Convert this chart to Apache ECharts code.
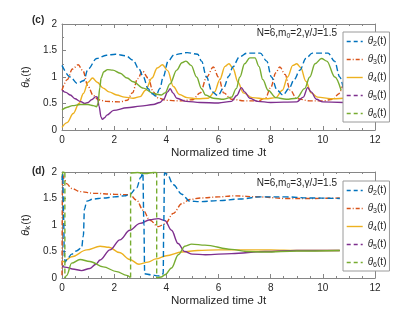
<!DOCTYPE html>
<html><head><meta charset="utf-8">
<script src="https://cdn.jsdelivr.net/npm/echarts@6/dist/echarts.min.js"></script>
<style>html,body{margin:0;padding:0;background:#fff}#c{width:415px;height:313px}</style>
</head><body><div id="c"></div>
<script>
// ---------- data (t, theta) ----------
const X_TICKS = [0, 2, 4, 6, 8, 10, 12];
const Y_TICKS = [0, 0.5, 1, 1.5, 2];
const SERIES_KEYS = ['2', '3', '4', '5', '6'];

// Panel (c): N=6, m0=2
const C_THETA2 = [[0,1.22],[0.32,1.0],[0.58,0.88],[0.83,0.93],[1.0,1.15],[1.33,1.35],[1.7,1.41],[2.05,1.43],[2.45,1.4],[2.72,1.32],[2.95,1.15],[3.12,1.0],[3.3,0.78],[3.44,0.69],[3.6,0.64],[3.75,0.78],[3.88,1.0],[4.07,1.3],[4.3,1.42],[4.8,1.46],[5.2,1.43],[5.35,1.3],[5.54,1.0],[5.75,0.72],[5.98,0.65],[6.2,0.8],[6.4,1.02],[6.55,1.19],[6.8,1.38],[7.1,1.45],[7.6,1.45],[7.85,1.3],[8.03,1.0],[8.25,0.75],[8.47,0.66],[8.7,0.78],[8.9,0.95],[9.12,1.13],[9.35,1.35],[9.6,1.45],[10.2,1.45],[10.45,1.3],[10.65,1.0],[10.8,0.75]];
const C_THETA3 = [[0,0.75],[0.2,0.95],[0.4,1.15],[0.62,1.23],[0.8,1.12],[1.0,0.82],[1.2,0.65],[1.4,0.57],[1.7,0.54],[2.2,0.53],[2.5,0.56],[2.7,0.7],[2.9,0.97],[3.09,1.11],[3.3,0.98],[3.5,0.72],[3.7,0.6],[4.0,0.56],[4.5,0.55],[5.0,0.57],[5.3,0.7],[5.55,1.0],[5.8,1.19],[6.0,1.0],[6.2,0.7],[6.5,0.58],[7.0,0.55],[7.5,0.55],[7.8,0.6],[8.0,0.8],[8.2,1.08],[8.35,1.19],[8.55,1.05],[8.75,0.75],[9.0,0.59],[9.5,0.55],[10.0,0.55],[10.4,0.58],[10.6,0.68],[10.8,0.9]];
const C_THETA4 = [[0,0.05],[0.2,0.14],[0.43,0.31],[0.65,0.5],[0.82,0.69],[1.0,0.9],[1.17,0.98],[1.35,0.9],[1.58,0.79],[1.8,0.72],[2.1,0.66],[2.4,0.62],[2.73,0.6],[3.0,0.63],[3.2,0.75],[3.45,0.98],[3.65,1.17],[3.85,1.23],[4.05,1.12],[4.27,0.82],[4.5,0.67],[4.8,0.61],[5.2,0.59],[5.6,0.6],[5.85,0.72],[6.05,0.95],[6.25,1.2],[6.4,1.25],[6.55,1.17],[6.75,0.9],[6.95,0.7],[7.3,0.61],[7.8,0.59],[8.2,0.61],[8.45,0.75],[8.65,1.0],[8.85,1.22],[9.0,1.25],[9.15,1.18],[9.35,0.92],[9.55,0.7],[9.8,0.62],[10.3,0.59],[10.8,0.6]];
const C_THETA5 = [[0,0.75],[0.15,0.71],[0.32,0.66],[0.5,0.59],[0.69,0.54],[0.88,0.5],[1.0,0.52],[1.13,0.57],[1.3,0.63],[1.36,0.62],[1.42,0.45],[1.5,0.24],[1.55,0.2],[1.63,0.23],[1.72,0.28],[1.98,0.37],[2.49,0.42],[3.0,0.45],[3.5,0.48],[3.75,0.52],[3.9,0.58],[4.05,0.72],[4.15,0.78],[4.25,0.7],[4.4,0.6],[4.77,0.54],[5.3,0.52],[6.0,0.51],[6.5,0.54],[6.7,0.65],[6.88,0.8],[7.0,0.72],[7.2,0.6],[7.5,0.54],[8.0,0.52],[9.0,0.53],[9.25,0.62],[9.42,0.8],[9.55,0.72],[9.75,0.58],[10.0,0.53],[10.8,0.52]];
const C_THETA6 = [[0,0.38],[0.2,0.43],[0.4,0.46],[0.7,0.48],[1.0,0.48],[1.2,0.46],[1.33,0.44],[1.38,0.5],[1.45,0.8],[1.5,0.98],[1.6,1.1],[1.75,1.14],[1.95,1.13],[2.23,1.07],[2.5,0.98],[2.73,0.91],[3.12,0.79],[3.5,0.69],[3.8,0.66],[3.95,0.7],[4.14,0.87],[4.4,1.13],[4.6,1.27],[4.75,1.3],[4.95,1.22],[5.16,1.0],[5.35,0.78],[5.5,0.66],[5.8,0.6],[6.2,0.58],[6.5,0.62],[6.68,0.78],[6.82,1.0],[7.0,1.25],[7.2,1.36],[7.4,1.36],[7.55,1.2],[7.7,0.95],[7.9,0.75],[8.2,0.61],[8.6,0.58],[9.0,0.6],[9.3,0.78],[9.5,1.0],[9.7,1.25],[9.95,1.35],[10.15,1.3],[10.46,1.0],[10.7,0.75]];

// Panel (d): N=6, m0=3   (null = break in line)
const D_THETA2 = [[0,1.85],[0.03,1.95],[0.06,1.2],[0.09,0.4],[0.12,0.3],[0.2,0.36],[0.37,0.45],[0.55,0.51],[0.75,0.57],[0.82,0.8],[0.86,1.3],[0.95,1.45],[1.2,1.49],[1.6,1.51],[2.0,1.53],[2.4,1.55],[2.6,1.58],[2.86,1.7],[3.02,1.9],[3.1,1.98],[3.14,1.0],[3.17,0.08],[3.4,0.06],[3.7,0.04],[3.88,0.08],[3.9,1.0],[3.93,1.98],[4.03,1.96],[4.27,1.76],[4.59,1.58],[4.9,1.45],[5.3,1.44],[6.0,1.46],[6.82,1.49],[7.59,1.53],[8.6,1.53],[9.5,1.51],[10.65,1.5]];
const D_THETA3 = [[0,0.05],[0.02,1.95],[0.1,1.85],[0.18,1.78],[0.37,1.69],[0.69,1.63],[1.2,1.6],[2.0,1.58],[2.6,1.57],[2.86,1.47],[3.11,1.28],[3.37,1.09],[3.69,0.97],[3.95,1.02],[4.27,1.22],[4.59,1.4],[4.9,1.48],[5.3,1.51],[6.0,1.53],[6.56,1.55],[7.6,1.53],[8.6,1.5],[9.5,1.5],[10.65,1.51]];
const D_THETA4 = [[0,0.3],[0.06,0.31],[0.37,0.4],[0.95,0.53],[1.46,0.6],[1.8,0.58],[2.2,0.48],[2.6,0.35],[2.95,0.26],[3.3,0.3],[3.6,0.36],[4.0,0.42],[4.59,0.49],[5.2,0.52],[6.0,0.53],[7.0,0.53],[8.0,0.53],[9.0,0.52],[10.65,0.52]];
const D_THETA5 = [[0,0.22],[0.18,0.2],[0.4,0.17],[0.75,0.14],[1.07,0.18],[1.3,0.26],[1.46,0.34],[1.84,0.53],[2.22,0.72],[2.6,0.9],[2.99,1.03],[3.37,1.1],[3.69,1.12],[3.95,1.08],[4.2,0.9],[4.45,0.65],[4.7,0.5],[5.0,0.45],[5.5,0.44],[6.5,0.46],[7.78,0.5],[9.0,0.52],[10.65,0.52]];
const D_THETA6 = [[0,1.9],[0.04,2.0],[0.1,1.99],null,[0.12,0.0],[0.18,0.05],[0.37,0.28],[0.69,0.35],[1.07,0.31],[1.58,0.21],[2.1,0.12],[2.48,0.05],[2.62,0.01],null,[2.64,1.98],[2.9,1.99],[3.2,1.97],[3.5,1.99],[3.62,1.99],null,[3.64,0.0],[3.8,0.02],[3.95,0.06],[4.2,0.19],[4.46,0.44],[4.71,0.6],[4.97,0.64],[5.48,0.62],[6.5,0.54],[7.07,0.5],[7.78,0.49],[9.0,0.51],[10.65,0.52]];
const D_THETA6_JUMPS = [[0.11,1.99],[0.11,0.0],null,[2.63,0.01],[2.63,1.98],null,[3.63,1.99],[3.63,0.0]];

// ---------- styling ----------
const COLORS = {'2':'#0072BD','3':'#D95319','4':'#EDB120','5':'#7E2F8E','6':'#77AC30'};
const DASH = {'2':[6,3],'3':[5,2,1,2],'4':'solid','5':'solid','6':'solid'};
const LEGEND_DASH = {'2':[4,3],'3':[4,2,1,2],'4':'solid','5':[4,3],'6':[4,3]};
const FONT = 'Liberation Sans, Arial, Helvetica, sans-serif';
const AX = '#868686', TXT = '#262626';

function pts(arr){ return arr.map(p => p === null ? [NaN,'-'] : p); }

const chart = echarts.init(document.getElementById('c'), null, {renderer:'canvas'});

const grids = [
  {left:62, top:24, width:313, height:106},
  {left:62, top:172, width:313, height:106}
];

function xAxisDef(gi, pos, main){
  return {
    type:'value', gridIndex:gi, position:pos, min:0, max:12, interval:2,
    axisLine:{show:true, onZero:false, lineStyle:{color:AX, width:1}},
    axisTick:{show:true, inside:true, length:4, lineStyle:{color:AX}},
    minorTick:{show:true, splitNumber:4, length:2, lineStyle:{color:AX}},
    splitLine:{show:false},
    axisLabel:{show:main, color:TXT, fontSize:10, fontFamily:FONT, margin:5},
    name: main ? 'Normalized time Jt' : '',
    nameLocation:'middle', nameGap:17,
    nameTextStyle:{color:TXT, fontSize:11.5, fontFamily:FONT}
  };
}
function yAxisDef(gi, pos, main){
  return {
    type:'value', gridIndex:gi, position:pos, min:0, max:2, interval:0.5,
    axisLine:{show:true, onZero:false, lineStyle:{color:AX, width:1}},
    axisTick:{show:true, inside:true, length:4, lineStyle:{color:AX}},
    minorTick:{show:true, splitNumber:2, length:2, lineStyle:{color:AX}},
    splitLine:{show:false},
    axisLabel:{show:main, color:TXT, fontSize:10, fontFamily:FONT, margin:5},
    name: main ? '{th|θ}{k|k}{p|(t)}' : '',
    nameLocation:'middle', nameGap:21, nameRotate:90,
    nameTextStyle:{color:TXT, fontFamily:FONT, fontSize:11,
      rich:{th:{fontSize:11, fontStyle:'italic', fontFamily:FONT, color:TXT},
            k:{fontSize:8, fontFamily:FONT, color:TXT, padding:[5,1,0,0]},
            p:{fontSize:11, fontFamily:FONT, color:TXT}}}
  };
}

const xAxes = [xAxisDef(0,'bottom',true), xAxisDef(0,'top',false), xAxisDef(1,'bottom',true), xAxisDef(1,'top',false)];
const yAxes = [yAxisDef(0,'left',true), yAxisDef(0,'right',false), yAxisDef(1,'left',true), yAxisDef(1,'right',false)];

const panelData = {
  c:{'2':C_THETA2,'3':C_THETA3,'4':C_THETA4,'5':C_THETA5,'6':C_THETA6},
  d:{'2':D_THETA2,'3':D_THETA3,'4':D_THETA4,'5':D_THETA5,'6':D_THETA6}
};

const series = [];
['c','d'].forEach((p, gi) => {
  SERIES_KEYS.forEach(k => {
    series.push({
      name: p + k, type:'line', xAxisIndex: gi*2, yAxisIndex: gi*2,
      data: pts(panelData[p][k]), showSymbol:false, symbol:'none',
      smooth:0.35, smoothMonotone:'x', connectNulls:false, clip:true,
      lineStyle:{color:COLORS[k], width:1.4, type:DASH[k]},
      itemStyle:{color:COLORS[k]}, animation:false, z: k==='2' ? 3 : 2
    });
  });
});
series.push({
  name:'d6jump', type:'line', xAxisIndex:2, yAxisIndex:2,
  data: pts(D_THETA6_JUMPS), showSymbol:false, symbol:'none', connectNulls:false,
  lineStyle:{color:COLORS['6'], width:1.4, type:[5,3]}, animation:false
});

const legendRich = {
  th:{fontSize:10, fontStyle:'italic', fontFamily:FONT, color:TXT, lineHeight:14},
  s:{fontSize:7, fontFamily:FONT, color:TXT, lineHeight:14, padding:[6,0,0,0]},
  p:{fontSize:10, fontFamily:FONT, color:TXT, lineHeight:14}
};
function legendDef(p, top){
  return {
    show:true, orient:'vertical', left:343, top:top, padding:[3,3,2,3],
    itemWidth:16, itemHeight:8, itemGap:5,
    backgroundColor:'#fff', borderColor:'#9a9a9a', borderWidth:1,
    selectedMode:false, z:20,
    itemStyle:{opacity:0},
    data: SERIES_KEYS.map(k => ({name:p+k, itemStyle:{opacity:0, color:'rgba(0,0,0,0)', borderWidth:0},
                                 lineStyle:{type:LEGEND_DASH[k], color:COLORS[k], width:1.4}})),
    formatter: function(name){ return '{th|θ}{s|' + name.slice(1) + '}{p|(t)}'; },
    textStyle:{rich:legendRich}
  };
}

function annot(text0, text1, y){
  return {type:'text', x:337, y:y, style:{
    text:'{a|' + text0 + '}{s|0}{a|' + text1 + '}', align:'right', verticalAlign:'middle',
    rich:{a:{fontSize:10, fontFamily:FONT, fill:TXT}, s:{fontSize:7, fontFamily:FONT, fill:TXT, padding:[6,0,0,0]}}
  }, z:10};
}

chart.setOption({
  animation:false,
  backgroundColor:'#fff',
  grid: grids,
  xAxis: xAxes,
  yAxis: yAxes,
  legend:[legendDef('c',32), legendDef('d',181)],
  series: series,
  graphic:[
    annot('N=6,m', '=2,γ/J=1.5', 33),
    annot('N=6,m', '=3,γ/J=1.5', 183),
    {type:'text', x:32, y:20, style:{text:'(c)', fontSize:10, fontWeight:'bold', fontFamily:FONT, fill:TXT, verticalAlign:'middle'}},
    {type:'text', x:32, y:171, style:{text:'(d)', fontSize:10, fontWeight:'bold', fontFamily:FONT, fill:TXT, verticalAlign:'middle'}}
  ]
});
</script></body></html>
